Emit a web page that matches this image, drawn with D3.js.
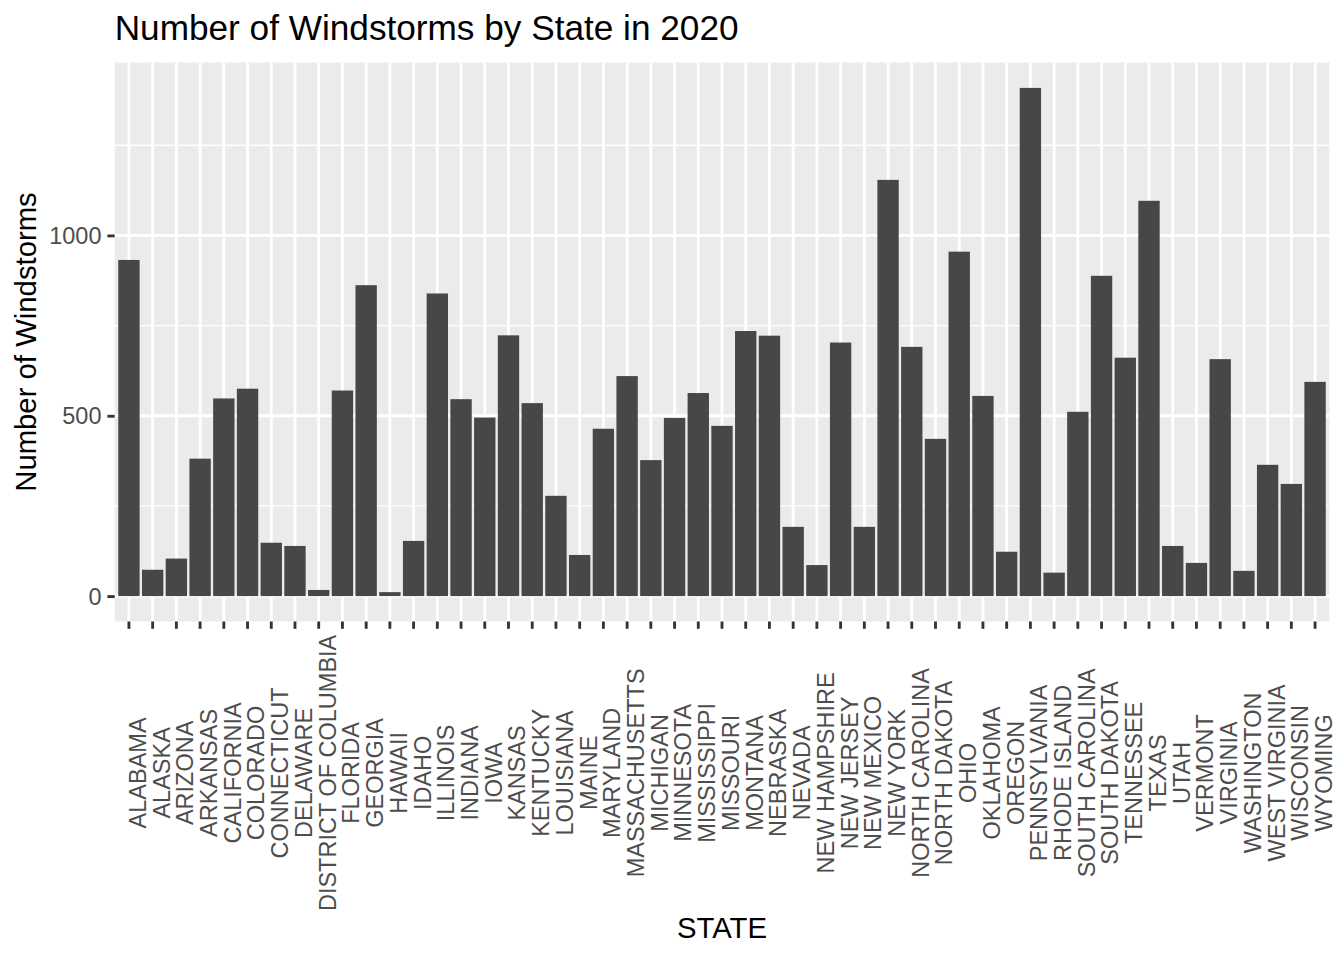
<!DOCTYPE html>
<html>
<head>
<meta charset="utf-8">
<script src="https://cdn.jsdelivr.net/npm/d3@7"></script>
<style>
  html, body { margin: 0; padding: 0; background: #ffffff; }
  svg { display: block; font-family: "Liberation Sans", Arial, Helvetica, sans-serif; }
</style>
</head>
<body>
<svg id="chart" width="1344" height="960"></svg>
<script>
const states = ["ALABAMA","ALASKA","ARIZONA","ARKANSAS","CALIFORNIA","COLORADO","CONNECTICUT","DELAWARE","DISTRICT OF COLUMBIA","FLORIDA","GEORGIA","HAWAII","IDAHO","ILLINOIS","INDIANA","IOWA","KANSAS","KENTUCKY","LOUISIANA","MAINE","MARYLAND","MASSACHUSETTS","MICHIGAN","MINNESOTA","MISSISSIPPI","MISSOURI","MONTANA","NEBRASKA","NEVADA","NEW HAMPSHIRE","NEW JERSEY","NEW MEXICO","NEW YORK","NORTH CAROLINA","NORTH DAKOTA","OHIO","OKLAHOMA","OREGON","PENNSYLVANIA","RHODE ISLAND","SOUTH CAROLINA","SOUTH DAKOTA","TENNESSEE","TEXAS","UTAH","VERMONT","VIRGINIA","WASHINGTON","WEST VIRGINIA","WISCONSIN","WYOMING"];
const windstorms = [932,73,104,381,548,575,148,139,17,570,862,11,153,839,546,495,723,535,278,114,464,610,377,494,563,472,735,722,192,86,703,192,1154,691,436,955,555,123,1409,65,511,888,661,1096,139,92,657,70,364,311,594];
const yTicks = [0, 500, 1000];
const yMinorTicks = [250, 750, 1250];
const titleText = "Number of Windstorms by State in 2020";
const xTitle = "STATE";
const yTitle = "Number of Windstorms";

const svg = d3.select("#chart");
const panel = { left: 114.7, right: 1329.3, top: 62.5, bottom: 621.5 };

const maxV = d3.max(windstorms);
const x = d3.scaleBand().domain(states).range([panel.left, panel.right]).paddingInner(0.1).paddingOuter(0.15);
const y = d3.scaleLinear().domain([-0.05 * maxV, 1.05 * maxV]).range([panel.bottom, panel.top]);

// panel background
svg.append("rect")
  .attr("x", panel.left).attr("y", panel.top)
  .attr("width", panel.right - panel.left).attr("height", panel.bottom - panel.top)
  .attr("fill", "#EBEBEB");

// minor grid
svg.append("g").selectAll("line").data(yMinorTicks).join("line")
  .attr("x1", panel.left).attr("x2", panel.right)
  .attr("y1", d => y(d)).attr("y2", d => y(d))
  .attr("stroke", "#ffffff").attr("stroke-width", 1.4);
// major grid y
svg.append("g").selectAll("line").data(yTicks).join("line")
  .attr("x1", panel.left).attr("x2", panel.right)
  .attr("y1", d => y(d)).attr("y2", d => y(d))
  .attr("stroke", "#ffffff").attr("stroke-width", 2.85);
// major grid x
svg.append("g").selectAll("line").data(states).join("line")
  .attr("x1", d => x(d) + x.bandwidth() / 2).attr("x2", d => x(d) + x.bandwidth() / 2)
  .attr("y1", panel.top).attr("y2", panel.bottom)
  .attr("stroke", "#ffffff").attr("stroke-width", 2.85);

// bars
svg.append("g").selectAll("rect").data(states).join("rect")
  .attr("x", d => x(d))
  .attr("width", x.bandwidth())
  .attr("y", (d, i) => y(windstorms[i]))
  .attr("height", (d, i) => y(0) - y(windstorms[i]))
  .attr("fill", "#474747");

// y axis
const yAxis = svg.append("g")
  .attr("transform", `translate(${panel.left},0)`)
  .call(d3.axisLeft(y).tickValues(yTicks).tickSize(7.3).tickPadding(5.9).tickFormat(d3.format("d")));
yAxis.select(".domain").remove();
yAxis.selectAll(".tick line").attr("stroke", "#333333").attr("stroke-width", 2.85);
yAxis.selectAll(".tick text").attr("fill", "#4D4D4D").attr("font-size", "23.5px")
  .attr("font-family", "Liberation Sans, Arial, sans-serif").attr("dy", "0.35em");

// x axis
const xAxis = svg.append("g")
  .attr("transform", `translate(0,${panel.bottom})`)
  .call(d3.axisBottom(x).tickSize(7.3).tickSizeOuter(0));
xAxis.select(".domain").remove();
xAxis.selectAll(".tick line").attr("stroke", "#333333").attr("stroke-width", 2.85);
const xt = xAxis.selectAll(".tick text")
  .attr("fill", "#4D4D4D").attr("font-size", "23.5px")
  .attr("font-family", "Liberation Sans, Arial, sans-serif");
let maxLen = 0;
xt.each(function () { maxLen = Math.max(maxLen, this.getComputedTextLength()); });
const labelCenter = 7.3 + 5.9 + maxLen / 2;
xt.attr("text-anchor", "middle")
  .attr("x", 0).attr("y", 0).attr("dy", "0.72em")
  .attr("transform", `translate(0,${labelCenter}) rotate(-90)`);

// titles
svg.append("text")
  .attr("x", panel.left).attr("y", 40.3)
  .attr("font-size", "35.2px").attr("fill", "#000000")
  .text(titleText);

svg.append("text")
  .attr("x", (panel.left + panel.right) / 2).attr("y", 938)
  .attr("text-anchor", "middle")
  .attr("font-size", "29.3px").attr("fill", "#000000")
  .text(xTitle);

svg.append("text")
  .attr("transform", `translate(36,${(panel.top + panel.bottom) / 2}) rotate(-90)`)
  .attr("text-anchor", "middle")
  .attr("font-size", "29.3px").attr("fill", "#000000")
  .text(yTitle);
</script>
</body>
</html>
